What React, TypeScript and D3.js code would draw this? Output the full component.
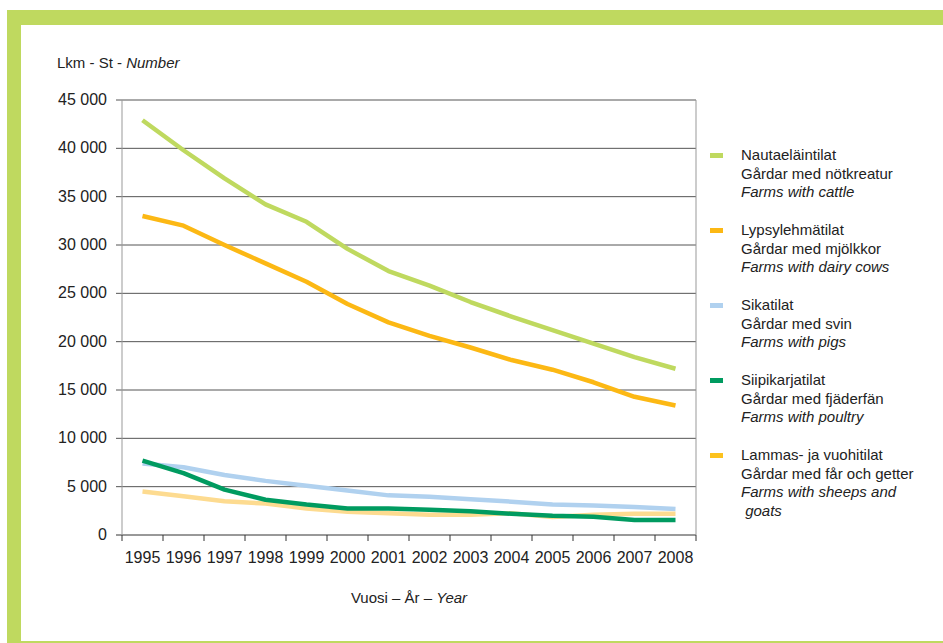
import * as d3 from "d3";

const years = ["1995", "1996", "1997", "1998", "1999", "2000", "2001", "2002", "2003", "2004", "2005", "2006", "2007", "2008"];

const cattle = [42900, 39800, 36900, 34200, 32400, 29600, 27300, 25800, 24100, 22600, 21200, 19800, 18400, 17200];
const dairy = [33000, 32000, 30000, 28100, 26200, 23900, 22000, 20600, 19400, 18100, 17100, 15800, 14300, 13400];
const pigs = [7400, 7000, 6200, 5600, 5100, 4600, 4100, 3950, 3700, 3450, 3150, 3050, 2900, 2700];
const poultry = [7700, 6400, 4700, 3650, 3150, 2750, 2750, 2600, 2450, 2200, 2000, 1900, 1550, 1550];
const sheep = [4500, 4000, 3500, 3250, 2750, 2400, 2250, 2100, 2100, 2250, 1850, 2100, 2200, 2200];

const yTicks = [0, 5000, 10000, 15000, 20000, 25000, 30000, 35000, 40000, 45000];

const series = [
  { key: "cattle", values: cattle, color: "#bfd95f", legend: "#bfd95f", lines: ["Nautaeläintilat", "Gårdar med nötkreatur"], en: ["Farms with cattle"] },
  { key: "dairy", values: dairy, color: "#fcb814", legend: "#fcb814", lines: ["Lypsylehmätilat", "Gårdar med mjölkkor"], en: ["Farms with dairy cows"] },
  { key: "pigs", values: pigs, color: "#b0d1ef", legend: "#b0d1ef", lines: ["Sikatilat", "Gårdar med svin"], en: ["Farms with pigs"] },
  { key: "sheep", values: sheep, color: "#fddb90", legend: "#fcc21e", lines: ["Lammas- ja vuohitilat", "Gårdar med får och getter"], en: ["Farms with sheeps and", " goats"] },
  { key: "poultry", values: poultry, color: "#009b60", legend: "#009b60", lines: ["Siipikarjatilat", "Gårdar med fjäderfän"], en: ["Farms with poultry"] },
];

const legendOrder = ["cattle", "dairy", "pigs", "poultry", "sheep"];

const W = 943;
const H = 643;
const font = "'Liberation Sans', Arial, sans-serif";

export default function App() {
  const x = d3.scaleBand<string>().domain(years).range([122, 696]);
  const y = d3.scaleLinear().domain([0, 45000]).range([535, 100]);
  const cx = (yr: string) => (x(yr) ?? 0) + x.bandwidth() / 2;

  const line = d3
    .line<number>()
    .x((_, i) => cx(years[i]))
    .y((d) => y(d));

  const tickEdges = [...years.map((yr) => x(yr) ?? 0), 696];

  return (
    <svg width={W} height={H} style={{ position: "absolute", left: 0, top: 0, background: "#fff" }} fontFamily={font}>
      {/* frame */}
      <rect x={7} y={10} width={W - 7} height={15} fill="#bfd95f" />
      <rect x={7} y={10} width={14} height={H - 10} fill="#bfd95f" />
      <rect x={21} y={641} width={W - 21} height={2} fill="#bfd95f" />

      <text x={57} y={68} fontSize={15} fill="#222">
        Lkm - St - <tspan fontStyle="italic">Number</tspan>
      </text>

      {/* grid + y axis */}
      {yTicks.map((t) => (
        <g key={t}>
          <line x1={116} x2={696} y1={y(t)} y2={y(t)} stroke={t === 0 ? "#333" : "#555"} strokeWidth={1} />
          <text x={107} y={y(t) + 5} textAnchor="end" fontSize={16} fill="#222">
            {d3.format(",")(t).replace(/,/g, " ")}
          </text>
        </g>
      ))}
      <line x1={122} x2={122} y1={100} y2={535} stroke="#999" />
      <line x1={696} x2={696} y1={100} y2={535} stroke="#999" />

      {/* x axis */}
      {tickEdges.map((tx, i) => (
        <line key={i} x1={tx} x2={tx} y1={535} y2={541} stroke="#333" />
      ))}
      {years.map((yr) => (
        <text key={yr} x={cx(yr)} y={563} textAnchor="middle" fontSize={16} fill="#222">
          {yr}
        </text>
      ))}
      <text x={409} y={603} textAnchor="middle" fontSize={15} fill="#222">
        Vuosi – År – <tspan fontStyle="italic">Year</tspan>
      </text>

      {/* lines */}
      {series.map((s) => (
        <path key={s.key} d={line(s.values) ?? ""} fill="none" stroke={s.color} strokeWidth={4.5} strokeLinejoin="round" />
      ))}

      {/* legend */}
      {legendOrder.map((k, i) => {
        const s = series.find((d) => d.key === k)!;
        const top = 160 + i * 75;
        return (
          <g key={k}>
            <rect x={710} y={top - 7} width={13} height={5} fill={s.legend} />
            {s.lines.map((l, j) => (
              <text key={j} x={741} y={top + j * 18.5} fontSize={15} fill="#222">
                {l}
              </text>
            ))}
            {s.en.map((l, j) => (
              <text key={"e" + j} x={741} y={top + (s.lines.length + j) * 18.5} fontSize={15} fill="#222" fontStyle="italic" style={{ whiteSpace: "pre" }}>
                {l}
              </text>
            ))}
          </g>
        );
      })}
    </svg>
  );
}
